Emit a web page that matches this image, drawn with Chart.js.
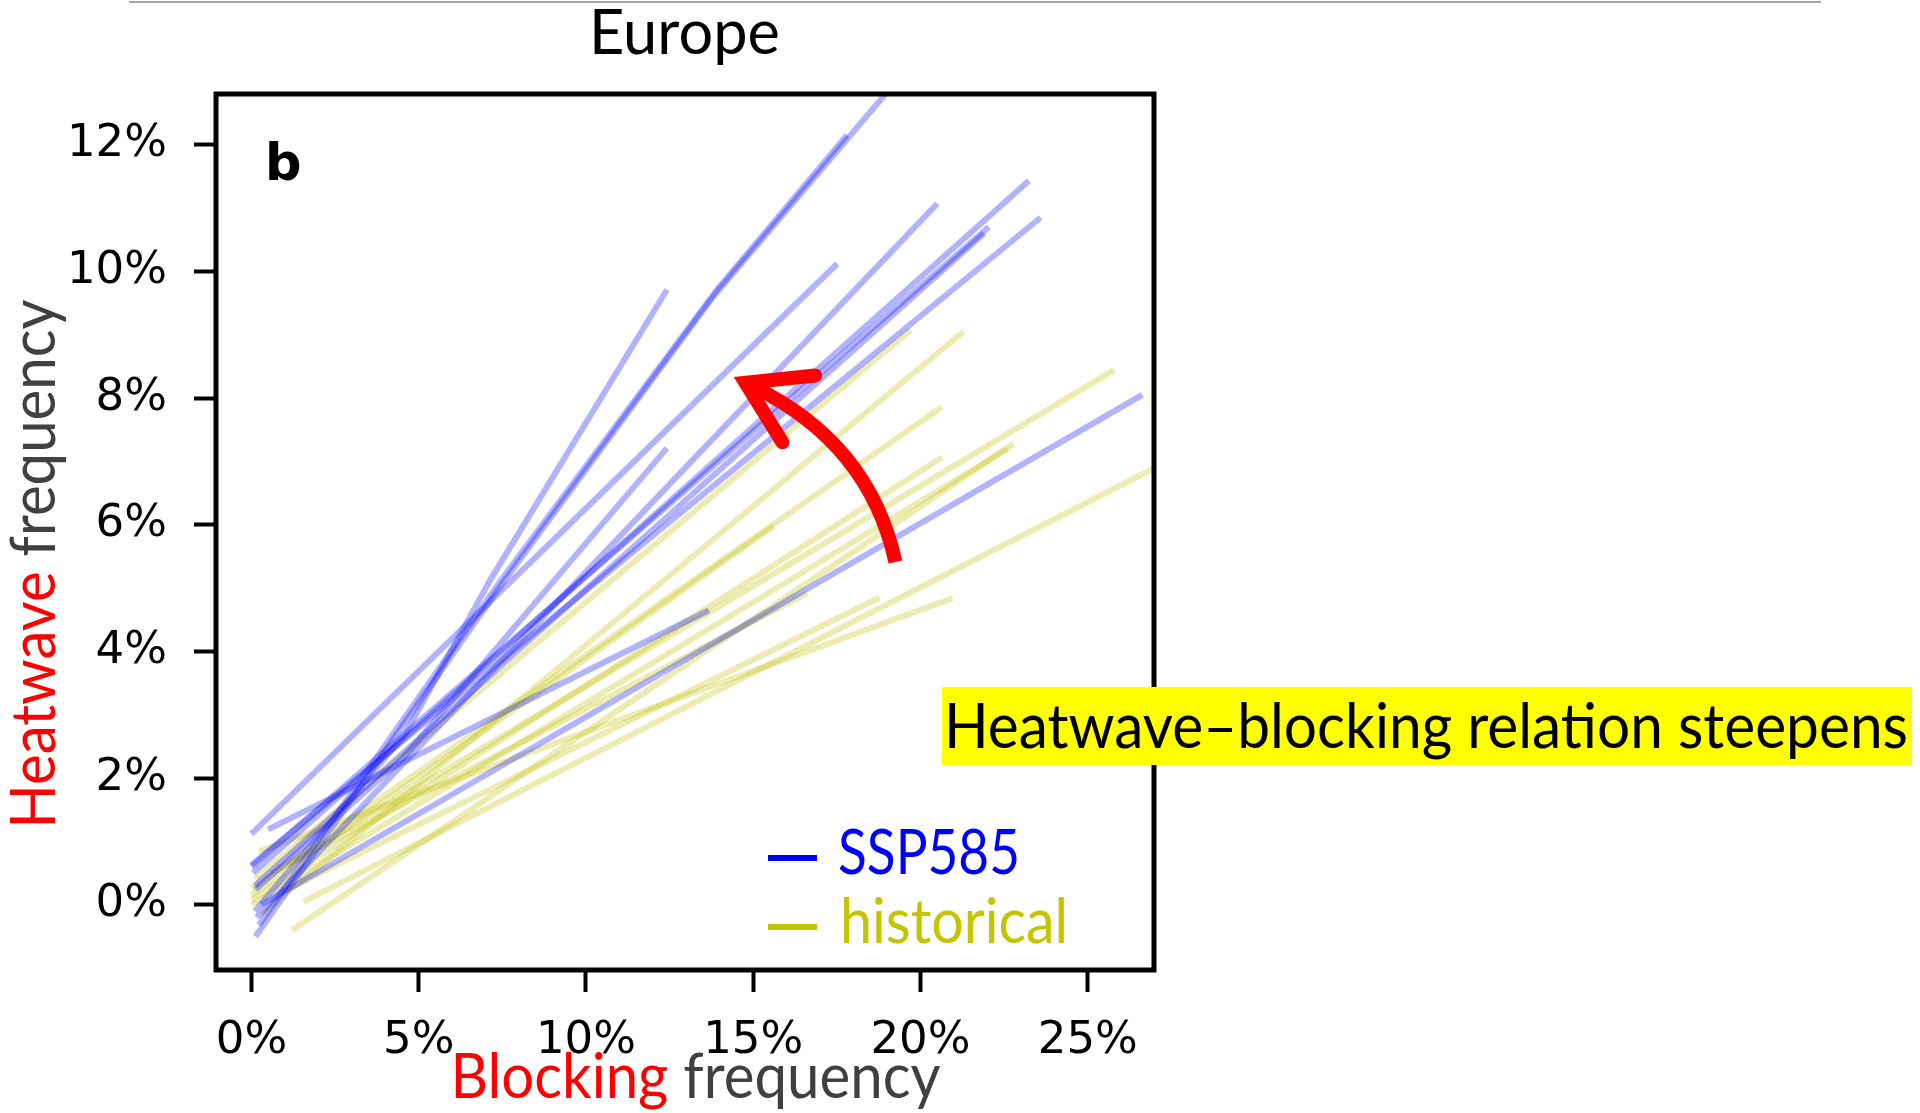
<!DOCTYPE html>
<html>
<head>
<meta charset="utf-8">
<title>Europe - heatwave vs blocking frequency</title>
<script src="https://cdn.jsdelivr.net/npm/chart.js@4.4.1/dist/chart.umd.min.js"></script>
<style>
  html, body { margin: 0; padding: 0; background: #fff; }
  #wrap { position: relative; width: 1920px; height: 1113px; overflow: hidden; }
  #chart { position: absolute; left: 0; top: 0; }
  #labels { position: absolute; left: 0; top: 0; pointer-events: none; }
  #labels text { font-family: Lato, "Open Sans", sans-serif; font-size: 62px; }
</style>
</head>
<body>
<div id="wrap">
  <canvas id="chart" width="1920" height="1113"></canvas>
  <svg id="labels" width="1920" height="1113" xmlns="http://www.w3.org/2000/svg">
    <line x1="129" y1="2" x2="1821" y2="2" stroke="#a6a6a6" stroke-width="2"/>
    <text x="684.5" y="54" text-anchor="middle" textLength="191" lengthAdjust="spacingAndGlyphs" fill="#000">Europe</text>
    <text x="265" y="180" fill="#000" style="font-family:'DejaVu Sans';font-weight:bold;font-size:51px">b</text>
    <text transform="translate(55,564) rotate(-90)" text-anchor="middle" textLength="529" lengthAdjust="spacingAndGlyphs"><tspan fill="#ff0000">Heatwave</tspan><tspan fill="#404040"> frequency</tspan></text>
    <text x="695.5" y="1098" text-anchor="middle" textLength="490" lengthAdjust="spacingAndGlyphs"><tspan fill="#ff0000">Blocking</tspan><tspan fill="#404040"> frequency</tspan></text>
    <line x1="768" y1="858" x2="817" y2="858" stroke="#0000ff" stroke-width="6"/>
    <text x="838" y="874" textLength="182" lengthAdjust="spacingAndGlyphs" fill="#0000ff">SSP585</text>
    <line x1="768" y1="927" x2="817" y2="927" stroke="#c4c400" stroke-width="6"/>
    <text x="840" y="943" textLength="228" lengthAdjust="spacingAndGlyphs" fill="#c4c400">historical</text>
    <rect x="942" y="687" width="970" height="78" fill="#ffff00"/>
    <text x="944" y="748" textLength="964" lengthAdjust="spacingAndGlyphs" fill="#000">Heatwave–blocking relation steepens</text>
  </svg>
</div>
<script>
// tick positions (percent)
const xTicks = [0, 5, 10, 15, 20, 25];
const yTicks = [0, 2, 4, 6, 8, 10, 12];

// one regression line per model, blocking frequency (%) vs heatwave frequency (%)
const ssp585Blocking = [
  [0.12, 7.4, 13.8, 19.6],
  [0.22, 7.5, 13.9, 17.8],
  [0.1, 4.6, 7.14, 12.42],
  [0.0, 17.51],
  [0.15, 20.5],
  [0.05, 23.24],
  [0.0, 22.04],
  [0.1, 21.9],
  [0.0, 23.59],
  [0.3, 26.63],
  [0.5, 13.67],
  [0.12, 4.5, 12.42]
];
const ssp585Heatwave = [
  [-0.5, 5.0, 9.6, 13.2],
  [-0.32, 5.15, 9.7, 12.15],
  [-0.1, 2.7, 5.13, 9.71],
  [1.12, 10.12],
  [-0.2, 11.07],
  [0.5, 11.43],
  [0.6, 10.7],
  [0.3, 10.6],
  [0.63, 10.85],
  [0.0, 8.05],
  [1.19, 4.65],
  [0.24, 2.3, 7.21]
];

const historicalBlocking = [
  [0.1, 19.7],
  [0.3, 21.29],
  [1.07, 25.78],
  [0.0, 20.64],
  [0.0, 20.64],
  [1.22, 22.78],
  [1.56, 27.5],
  [0.6, 16.61],
  [0.9, 18.77],
  [0.22, 20.96],
  [0.0, 15.61],
  [0.0, 22.6]
];
const historicalHeatwave = [
  [0.4, 9.07],
  [-0.15, 9.05],
  [0.63, 8.44],
  [0.26, 7.86],
  [0.08, 7.06],
  [-0.4, 7.28],
  [0.05, 7.03],
  [0.5, 4.92],
  [0.2, 4.85],
  [0.84, 4.84],
  [0.15, 5.98],
  [0.0, 7.2]
];

// curved "steepens" arrow: tail, bend control, tip (data units)
const arrowPath = [[19.25, 5.41], [18.48, 7.28], [14.77, 8.24]];

function makeSets(xs, ys, color, label) {
  return xs.map((row, i) => ({
    label: label,
    data: row.map((v, j) => ({ x: v, y: ys[i][j] })),
    borderColor: color,
    borderWidth: 6,
    pointRadius: 0,
    fill: false,
    tension: 0
  }));
}

// first dataset ends up on top, so blue goes first
const datasets = makeSets(ssp585Blocking, ssp585Heatwave, 'rgba(0,0,255,0.3)', 'SSP585')
  .concat(makeSets(historicalBlocking, historicalHeatwave, 'rgba(191,191,0,0.3)', 'historical'));

const framePlugin = {
  id: 'frame',
  afterDraw(chart) {
    const a = chart.chartArea, ctx = chart.ctx;
    ctx.save();
    ctx.lineWidth = 5;
    ctx.strokeStyle = '#000';
    ctx.strokeRect(a.left, a.top, a.right - a.left, a.bottom - a.top);
    ctx.restore();
  }
};

const arrowPlugin = {
  id: 'steepenArrow',
  afterDatasetsDraw(chart) {
    const xs = chart.scales.x, ys = chart.scales.y, ctx = chart.ctx;
    const p = arrowPath.map(([x, y]) => [xs.getPixelForValue(x), ys.getPixelForValue(y)]);
    ctx.save();
    ctx.strokeStyle = '#ff0000';
    ctx.lineWidth = 14;
    ctx.lineCap = 'butt';
    ctx.beginPath();
    ctx.moveTo(p[0][0], p[0][1]);
    ctx.quadraticCurveTo(p[1][0], p[1][1], p[2][0] + 8, p[2][1] + 4);
    ctx.stroke();
    // head
    const back = Math.atan2(p[1][1] - p[2][1], p[1][0] - p[2][0]);
    const len = 70, spread = 0.56;
    ctx.lineCap = 'round';
    ctx.lineJoin = 'miter';
    ctx.beginPath();
    ctx.moveTo(p[2][0] + len * Math.cos(back - spread), p[2][1] + len * Math.sin(back - spread));
    ctx.lineTo(p[2][0], p[2][1]);
    ctx.lineTo(p[2][0] + len * Math.cos(back + spread), p[2][1] + len * Math.sin(back + spread));
    ctx.stroke();
    ctx.restore();
  }
};

const tickFont = { family: 'DejaVu Sans', size: 45 };

new Chart(document.getElementById('chart'), {
  type: 'line',
  data: { datasets: datasets },
  options: {
    responsive: false,
    animation: false,
    devicePixelRatio: 1,
    layout: { padding: { left: 0, top: 94, right: 766, bottom: 0 } },
    plugins: {
      legend: { display: false },
      tooltip: { enabled: false },
      title: { display: false }
    },
    scales: {
      x: {
        type: 'linear',
        min: -1.06,
        max: 26.98,
        afterBuildTicks: s => { s.ticks = xTicks.map(v => ({ value: v })); },
        afterFit: s => { s.height = 143; },
        ticks: { font: tickFont, color: '#000', padding: 22, maxRotation: 0, callback: v => v + '%' },
        grid: { drawOnChartArea: false, tickLength: 22, tickWidth: 4, tickColor: '#000' },
        border: { display: false }
      },
      y: {
        type: 'linear',
        min: -1.03,
        max: 12.8,
        afterBuildTicks: s => { s.ticks = yTicks.map(v => ({ value: v })); },
        afterFit: s => { s.width = 216; },
        ticks: { font: tickFont, color: '#000', padding: 27, callback: v => v + '%' },
        grid: { drawOnChartArea: false, tickLength: 22, tickWidth: 4, tickColor: '#000' },
        border: { display: false }
      }
    }
  },
  plugins: [arrowPlugin, framePlugin]
});
</script>
</body>
</html>
